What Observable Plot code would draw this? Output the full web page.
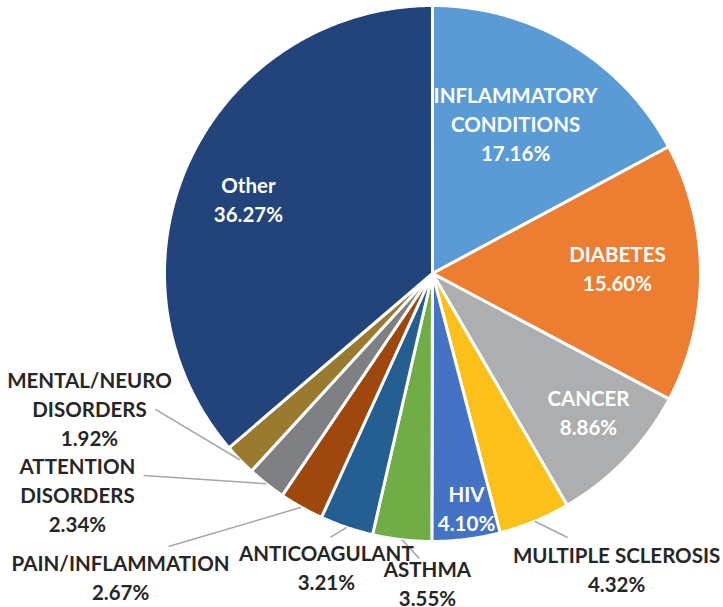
<!DOCTYPE html>
<html>
<head>
<meta charset="utf-8">
<script src="https://cdn.jsdelivr.net/npm/d3@7"></script>
<script src="https://cdn.jsdelivr.net/npm/@observablehq/plot@0.6"></script>
<style>
  html, body { margin: 0; padding: 0; background: #ffffff; }
  #chart svg { display: block; }
</style>
</head>
<body>
<div id="chart"></div>
<script>
// ---- data ----
const categories = [
  "INFLAMMATORY CONDITIONS", "DIABETES", "CANCER", "MULTIPLE SCLEROSIS", "HIV",
  "ASTHMA", "ANTICOAGULANT", "PAIN/INFLAMMATION", "ATTENTION DISORDERS",
  "MENTAL/NEURO DISORDERS", "Other"
];
const shares = [17.16, 15.60, 8.86, 4.32, 4.10, 3.55, 3.21, 2.67, 2.34, 1.92, 36.27];
const labelTexts = [
  "INFLAMMATORY\nCONDITIONS", "DIABETES", "CANCER", "MULTIPLE SCLEROSIS", "HIV",
  "ASTHMA", "ANTICOAGULANT", "PAIN/INFLAMMATION", "ATTENTION\nDISORDERS",
  "MENTAL/NEURO\nDISORDERS", "Other"
];
const colors = [
  "#5B9BD5", "#ED7D31", "#ADAEB0", "#FBC11A", "#4472C4",
  "#70AD47", "#255E91", "#9E480E", "#7F8083", "#997A2E", "#22447A"
];
// label layout (unit-radius coordinates): [inside?, labelX, labelY, leaderEndX, leaderEndY]
const labelLayout = [
  [true, 0.310, 0.563],
  [true, 0.690, 0.022],
  [true, 0.582, -0.515],
  [false, 0.687, -1.101, 0.504, -0.985],
  [true, 0.127, -0.873],
  [false, -0.019, -1.153, -0.049, -1.063],
  [false, -0.396, -1.093, -0.381, -0.985],
  [false, -1.164, -1.131, -0.985, -1.019],
  [false, -1.325, -0.821, -1.078, -0.754],
  [false, -1.280, -0.502, -1.034, -0.507],
  [true, -0.687, 0.280]
];

// ---- geometry from values ----
const total = d3.sum(shares);
const slices = [];
let cum = 0;
categories.forEach((c, i) => {
  const a0 = cum / total * 2 * Math.PI;
  cum += shares[i];
  const a1 = cum / total * 2 * Math.PI;
  const mid = (a0 + a1) / 2;
  slices.push({c, i, a0, a1, mid});
});
const poly = [];
for (const s of slices) {
  poly.push({c: s.c, x: 0, y: 0});
  const n = Math.max(2, Math.ceil((s.a1 - s.a0) / (Math.PI / 360)));
  for (let k = 0; k <= n; k++) {
    const a = s.a0 + (s.a1 - s.a0) * k / n;
    poly.push({c: s.c, x: Math.sin(a), y: Math.cos(a)});
  }
}
const labels = slices.map((s, i) => ({
  c: s.c,
  inside: labelLayout[i][0],
  x: labelLayout[i][1],
  y: labelLayout[i][2],
  text: labelTexts[i] + "\n" + shares[i].toFixed(2) + "%"
}));
const leaders = slices.filter((s, i) => !labelLayout[i][0]).map(s => ({
  x1: Math.sin(s.mid) * 1.0, y1: Math.cos(s.mid) * 1.0,
  x2: labelLayout[s.i][3], y2: labelLayout[s.i][4]
}));

const font = "Lato, 'Open Sans', sans-serif";
const fs = 20.5;
const lh = 1.42;
const chart = Plot.plot({
  width: 723,
  height: 607,
  marginLeft: 164,
  marginRight: 23,
  marginTop: 5,
  marginBottom: 66,
  x: {domain: [-1, 1], axis: null},
  y: {domain: [-1, 1], axis: null},
  color: {domain: categories, range: colors},
  style: {fontFamily: font, background: "#ffffff"},
  marks: [
    Plot.line(poly, {x: "x", y: "y", z: "c", fill: "c", stroke: "#ffffff", strokeWidth: 3, strokeLinejoin: "round", curve: "linear-closed"}),
    Plot.link(leaders, {x1: "x1", y1: "y1", x2: "x2", y2: "y2", stroke: "#A6A6A6", strokeWidth: 1.5}),
    Plot.text(labels.filter(d => d.inside), {x: "x", y: "y", text: "text", fill: "#ffffff", fontWeight: "bold", fontSize: fs, lineHeight: lh, lineAnchor: "middle", fontFamily: font}),
    Plot.text(labels.filter(d => !d.inside), {x: "x", y: "y", text: "text", fill: "#262626", fontWeight: "bold", fontSize: fs, lineHeight: lh, lineAnchor: "middle", fontFamily: font})
  ]
});
document.getElementById("chart").appendChild(chart);
</script>
</body>
</html>
